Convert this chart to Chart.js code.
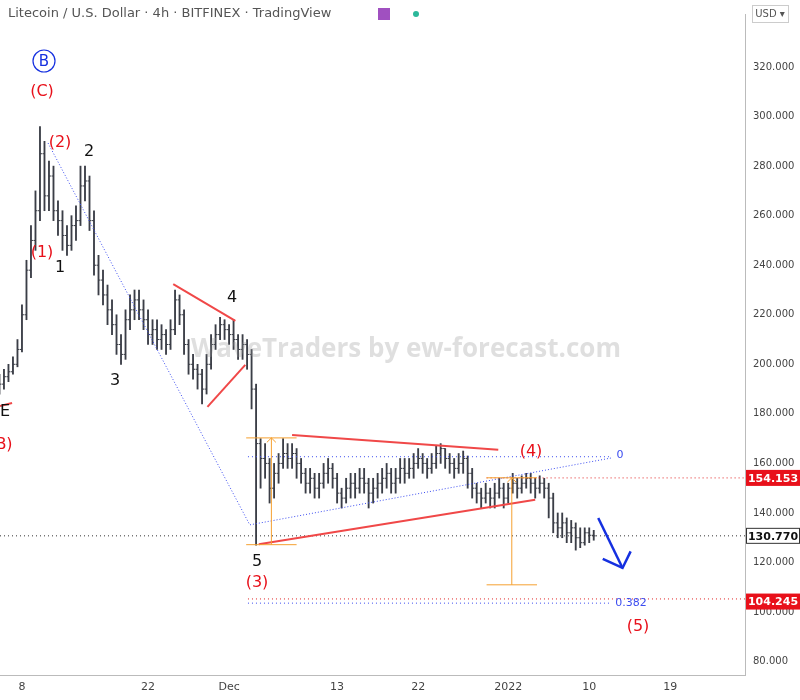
<!DOCTYPE html>
<html>
<head>
<meta charset="utf-8">
<script src="https://cdn.jsdelivr.net/npm/chart.js@4.4.1/dist/chart.umd.min.js"></script>
<style>
  body { margin: 0; background: #fff; }
  #wrap { width: 800px; height: 700px; position: relative; }
</style>
</head>
<body>
<div id="wrap"><canvas id="chart"></canvas></div>
<script>
// day offset from Nov 1 2021, one bar per 12h
const firstDay = 4.5;
const closes = [192,195,197,200,206,220,238,250,262,285,268,276,262,258,252,248,256,258,272,274,
  258,240,234,228,222,216,208,204,218,222,226,222,218,212,214,210,212,208,214,226,
  220,208,200,198,196,190,200,208,212,216,214,212,210,206,208,204,190,168,162,160,
  150,156,160,164,162,164,160,156,152,154,150,152,156,158,154,148,146,150,152,150,
  154,152,148,150,152,154,156,152,154,158,156,158,160,162,160,158,160,164,166,162,
  160,158,160,162,156,150,148,146,148,146,148,150,146,150,152,150,152,154,152,150,
  152,150,146,136,134,136,132,134,130,128,132,131,130.77];
const highs = [196,198,200,203,210,224,242,256,270,296,290,282,280,266,262,256,260,264,280,280,
  276,262,244,238,232,226,220,212,222,228,230,230,226,222,218,218,216,214,218,230,
  228,222,210,204,200,198,204,212,216,219,218,216,218,212,212,210,206,192,170,168,
  162,160,164,170,168,168,166,162,158,158,156,156,160,162,160,156,150,154,156,156,
  158,158,154,154,156,158,160,158,158,162,162,162,164,166,164,162,164,167,168,166,
  164,162,164,165,163,158,152,150,152,150,152,154,152,152,156,154,155,156,156,154,
  155,154,152,148,140,140,138,137,136,134,134,134,133];
const lows = [188,190,193,196,199,205,218,235,246,258,262,262,258,252,246,244,246,250,256,266,
  254,236,228,224,216,212,204,200,202,214,218,218,214,208,208,206,206,204,206,212,
  216,204,196,194,190,184,188,198,206,210,210,208,206,202,202,198,182,127,150,154,
  144,146,152,158,158,158,154,152,148,148,146,146,150,152,150,144,142,144,146,146,
  148,148,142,144,146,148,150,148,148,152,152,154,154,158,156,154,156,158,160,158,
  156,154,156,156,150,146,144,142,144,142,142,146,142,144,148,146,148,150,148,146,
  148,146,138,132,130,130,128,128,125,126,127,128,129];

const dayTicks = [7, 21, 30, 42, 51, 61, 70, 79];
const dayLabels = ['8', '22', 'Dec', '13', '22', '2022', '10', '19'];
const priceTags = [154.153, 130.770, 104.245];

const bars = closes.map((c, i) => ({ x: firstDay + i * 0.5, y: [lows[i], highs[i]] }));

const BAR = '#3b3e47';

const annotations = {
  id: 'annotations',
  afterDatasetsDraw(chart) {
    const ctx = chart.ctx;
    const xs = chart.scales.x, ys = chart.scales.y;
    const X = v => xs.getPixelForValue(v), Y = v => ys.getPixelForValue(v);
    const area = chart.chartArea;

    // open / close ticks
    ctx.save();
    ctx.strokeStyle = BAR;
    ctx.lineWidth = 1;
    closes.forEach((c, i) => {
      const o = i === 0 ? c - 2 : closes[i - 1];
      const px = X(firstDay + i * 0.5);
      ctx.beginPath();
      ctx.moveTo(px - 2, Y(o)); ctx.lineTo(px, Y(o));
      ctx.moveTo(px, Y(c)); ctx.lineTo(px + 2, Y(c));
      ctx.stroke();
    });

    function line(pts, color, width, dash) {
      ctx.beginPath();
      ctx.strokeStyle = color; ctx.lineWidth = width;
      ctx.setLineDash(dash || []);
      pts.forEach((p, k) => k ? ctx.lineTo(X(p[0]), Y(p[1])) : ctx.moveTo(X(p[0]), Y(p[1])));
      ctx.stroke();
      ctx.setLineDash([]);
    }

    // horizontal dotted levels
    line([[32.1, 162.7], [72.5, 162.7]], '#3b4cf0', 1, [1, 3]);
    line([[58.6, 154.153], [87.3, 154.153]], '#e02020', 1, [1, 3]);
    line([[4.56, 130.77], [87.3, 130.77]], '#333', 1, [1, 3]);
    line([[32.1, 105.3], [87.3, 105.3]], '#e02020', 1, [1, 3]);
    line([[32.1, 103.6], [72.5, 103.6]], '#3b4cf0', 1, [1, 3]);

    // blue dotted channel
    line([[9.9, 289.3], [32.3, 135.2], [72.6, 162.3]], '#3b4cf0', 1, [1, 2]);

    // red lines
    const red = '#f04848';
    line([[23.8, 232.4], [30.7, 217.5]], red, 2);
    line([[27.6, 182.8], [31.8, 199.8]], red, 2);
    line([[37.0, 171.5], [59.9, 165.5]], red, 2);
    line([[33.3, 127.4], [64.0, 145.3]], red, 2);

    // orange measures
    const org = '#f5a030';
    line([[31.9, 170.3], [37.5, 170.3]], org, 1);
    line([[31.9, 127.2], [37.5, 127.2]], org, 1);
    line([[34.7, 127.2], [34.7, 170.3]], org, 1);
    line([[34.2, 168.5], [34.7, 170.3], [35.2, 168.5]], org, 1);
    line([[58.6, 154.2], [64.2, 154.2]], org, 1);
    line([[58.6, 111.0], [64.2, 111.0]], org, 1);
    line([[61.4, 111.0], [61.4, 154.2]], org, 1);
    line([[60.9, 152.4], [61.4, 154.2], [61.9, 152.4]], org, 1);

    // small red stub at left
    line([[4.56, 183.2], [5.9, 184.4]], red, 2);

    // blue arrow
    line([[71.0, 138.0], [73.7, 117.8]], '#1530e0', 2.5);
    line([[71.5, 121.5], [73.7, 117.8], [74.6, 124.5]], '#1530e0', 2.5);

    // wave labels
    ctx.textAlign = 'center'; ctx.textBaseline = 'middle';
    function label(t, x, y, color, size) {
      ctx.fillStyle = color;
      ctx.font = (size || 16) + 'px "DejaVu Sans", sans-serif';
      ctx.fillText(t, x, y);
    }
    const r = '#e8101a', k = '#111';
    label('(C)', 42, 92, r);
    label('(2)', 60, 143, r);
    label('2', 89, 152, k);
    label('(1)', 42, 253, r);
    label('1', 60, 268, k);
    label('3', 115, 381, k);
    label('4', 232, 298, k);
    label('5', 257, 562, k);
    label('(3)', 257, 583, r);
    label('(4)', 531, 452, r);
    label('(5)', 638, 627, r);
    label('E', 5, 412, k);
    label('B)', 4, 445, r);
    label('0', 620, 455, '#3b4cf0', 11);
    label('0.382', 631, 603, '#3b4cf0', 11);
    ctx.beginPath();
    ctx.strokeStyle = '#1530e0'; ctx.lineWidth = 1.2;
    ctx.arc(44, 61, 11, 0, Math.PI * 2);
    ctx.stroke();
    label('B', 44, 62, '#1530e0', 15);

    // watermark
    ctx.font = 'bold 26px "Open Sans", sans-serif';
    ctx.fillStyle = 'rgba(150,150,150,0.3)';
    ctx.fillText('WaveTraders by ew-forecast.com', 406, 350);

    // title
    ctx.textAlign = 'left';
    ctx.font = '13px "DejaVu Sans", sans-serif';
    ctx.fillStyle = '#555';
    ctx.fillText('Litecoin / U.S. Dollar · 4h · BITFINEX · TradingView', 8, 14);
    ctx.fillStyle = '#a050c0';
    ctx.fillRect(378, 8, 12, 12);
    ctx.fillStyle = '#2bb89a';
    ctx.beginPath(); ctx.arc(416, 14, 3, 0, Math.PI * 2); ctx.fill();

    // price tags on axis
    priceTags.forEach(p => {
      const py = Y(p);
      const isRed = p !== 130.770;
      ctx.fillStyle = isRed ? '#e8101a' : '#fff';
      ctx.fillRect(area.right + 1, py - 8, 54, 16);
      if (!isRed) { ctx.strokeStyle = '#333'; ctx.lineWidth = 1; ctx.strokeRect(area.right + 1.5, py - 7.5, 53, 15); }
      ctx.fillStyle = isRed ? '#fff' : '#111';
      ctx.font = 'bold 11px "DejaVu Sans", sans-serif';
      ctx.textAlign = 'center';
      ctx.fillText(p.toFixed(3), area.right + 28, py + 1);
    });

    // USD box
    ctx.strokeStyle = '#ccc'; ctx.lineWidth = 1;
    ctx.strokeRect(752.5, 5.5, 36, 17);
    ctx.fillStyle = '#555'; ctx.font = '10px "DejaVu Sans", sans-serif';
    ctx.fillText('USD ▾', 770, 14);
    ctx.restore();
  }
};

new Chart(document.getElementById('chart'), {
  type: 'bar',
  data: {
    datasets: [{
      data: bars,
      backgroundColor: BAR,
      barThickness: 1.2,
      grouped: false
    }]
  },
  options: {
    responsive: true,
    maintainAspectRatio: false,
    animation: false,
    layout: { padding: 0 },
    plugins: { legend: { display: false }, tooltip: { enabled: false } },
    scales: {
      x: {
        type: 'linear',
        offset: false,
        min: 4.56, max: 87.3,
        grid: { display: false, drawTicks: false, offset: false },
        border: { color: '#bbb' },
        afterBuildTicks: s => { s.ticks = dayTicks.map(v => ({ value: v })); },
        afterFit: s => { s.height = 25; },
        ticks: {
          color: '#444', font: { size: 11, family: 'DejaVu Sans' }, padding: 6,
          maxRotation: 0,
          callback: v => dayLabels[dayTicks.indexOf(v)]
        }
      },
      y: {
        position: 'right',
        min: 74.6, max: 341.4,
        grid: { display: false, drawTicks: false },
        border: { color: '#bbb' },
        afterBuildTicks: s => {
          const t = [];
          for (let v = 80; v <= 320; v += 20) t.push({ value: v });
          s.ticks = t;
        },
        afterFit: s => { s.width = 55; },
        ticks: {
          color: '#444', font: { size: 10, family: 'DejaVu Sans' }, padding: 8,
          callback: v => v.toFixed(3)
        }
      }
    }
  },
  plugins: [annotations]
});
</script>
</body>
</html>
